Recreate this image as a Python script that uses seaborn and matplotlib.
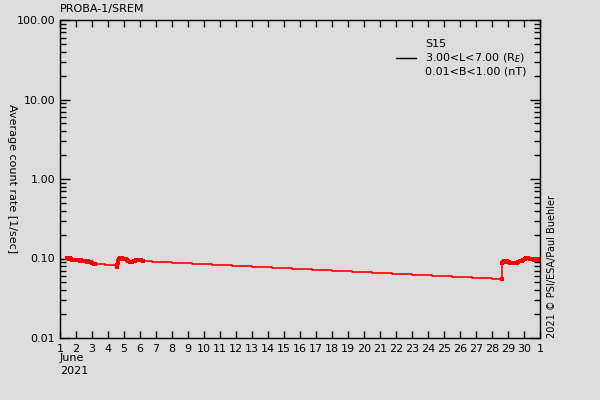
import matplotlib
matplotlib.use("Agg")
import matplotlib.pyplot as plt
import numpy as np
import pandas as pd
import seaborn as sns

# dense measurement bursts (days of June 2021, average count rate)
burst1_days = [1.46, 1.52, 1.58, 1.64, 1.70, 1.76, 1.82, 1.90, 1.98, 2.06, 2.14, 2.22,
               2.30, 2.38, 2.46, 2.54, 2.62, 2.70, 2.78, 2.86, 2.94, 3.02, 3.10, 3.16]
burst1_rate = [0.101, 0.102, 0.100, 0.101, 0.099, 0.097, 0.096, 0.097, 0.095, 0.096, 0.095, 0.094,
               0.095, 0.093, 0.092, 0.093, 0.092, 0.091, 0.092, 0.091, 0.090, 0.089, 0.086, 0.085]
gap1_days = [3.8, 4.5]
gap1_rate = [0.082, 0.079]
burst2_days = [4.56, 4.58, 4.60, 4.62, 4.66, 4.72, 4.80, 4.88, 4.96, 5.04, 5.12, 5.20,
               5.28, 5.36, 5.44, 5.52, 5.60, 5.68, 5.76, 5.84, 5.92, 6.00, 6.08, 6.16]
burst2_rate = [0.078, 0.082, 0.088, 0.094, 0.099, 0.101, 0.100, 0.101, 0.100, 0.099, 0.098, 0.096,
               0.093, 0.091, 0.090, 0.091, 0.093, 0.094, 0.095, 0.096, 0.095, 0.096, 0.095, 0.094]
gap2_days = [6.2, 6.77, 8.02, 9.27, 10.52, 11.77, 13.02, 14.27, 15.52, 16.77, 18.02,
             19.27, 20.52, 21.77, 23.02, 24.27, 25.52, 26.77, 28.02]
gap2_rate = [0.0922, 0.0896, 0.0870, 0.0845, 0.0821, 0.0798, 0.0775, 0.0753, 0.0731, 0.0711, 0.0690,
             0.0671, 0.0651, 0.0633, 0.0615, 0.0597, 0.0580, 0.0564, 0.0547]
burst3_days = [28.64, 28.65, 28.68, 28.75, 28.85, 28.95, 29.05, 29.15, 29.25, 29.35, 29.45, 29.55,
               29.65, 29.75, 29.85, 29.95, 30.05, 30.15, 30.25, 30.35, 30.45, 30.55, 30.65, 30.75,
               30.85, 30.95, 31.0]
burst3_rate = [0.0547, 0.087, 0.091, 0.092, 0.091, 0.092, 0.090, 0.088, 0.087, 0.088, 0.087, 0.089,
               0.090, 0.092, 0.094, 0.097, 0.099, 0.102, 0.101, 0.099, 0.098, 0.098, 0.097, 0.098,
               0.097, 0.098, 0.099]

xtick_pos = list(range(1, 32))
xtick_labels = [str(d) for d in range(1, 31)] + ["1"]
ytick_pos = [0.01, 0.1, 1, 10, 100]
ytick_labels = ["0.01", "0.10", "1.00", "10.00", "100.00"]

bg = "#dcdcdc"
sns.set_style("ticks")
plt.rcParams["font.family"] = ["DejaVu Sans"]
plt.rcParams["font.size"] = 8
plt.rcParams["text.color"] = "black"
plt.rcParams["axes.labelcolor"] = "black"
plt.rcParams["xtick.color"] = "black"
plt.rcParams["ytick.color"] = "black"

df = pd.DataFrame({
    "day": burst1_days + gap1_days + burst2_days + gap2_days + burst3_days,
    "rate": burst1_rate + gap1_rate + burst2_rate + gap2_rate + burst3_rate,
})
dense = pd.DataFrame({
    "day": burst1_days + burst2_days + burst3_days,
    "rate": burst1_rate + burst2_rate + burst3_rate,
})

fig = plt.figure(figsize=(6, 4), dpi=100, facecolor=bg)
ax = fig.add_axes([0.1, 0.155, 0.8, 0.795], facecolor=bg)

sns.lineplot(data=df, x="day", y="rate", ax=ax, color="red", linewidth=1.2,
             drawstyle="steps-post", estimator=None, sort=False,
             label="S15\n3.00<L<7.00 (R$_E$)\n0.01<B<1.00 (nT)")
sns.scatterplot(data=dense, x="day", y="rate", ax=ax, color="red", marker="s",
                s=10, linewidth=0, legend=False)

ax.set_yscale("log")
ax.set_xlim(1, 31)
ax.set_ylim(0.01, 100)
ax.set_xticks(xtick_pos)
ax.set_xticklabels(xtick_labels)
ax.set_yticks(ytick_pos)
ax.set_yticklabels(ytick_labels)
ax.tick_params(axis="both", which="both", direction="in", top=True, right=True,
               labelright=False, labeltop=False, width=1, color="black",
               labelcolor="black")
ax.tick_params(axis="y", which="major", length=7)
ax.tick_params(axis="y", which="minor", length=4)
ax.tick_params(axis="x", which="major", length=5, pad=4)
for sp in ax.spines.values():
    sp.set_color("black")
    sp.set_linewidth(1)

ax.set_xlabel("")
ax.set_ylabel("Average count rate [1/sec]", rotation=270, va="center")
ax.yaxis.set_label_coords(-0.1, 0.5)

fig.text(0.1, 0.965, "PROBA-1/SREM", ha="left", va="bottom", fontsize=8)
fig.text(0.1, 0.118, "June\n2021", ha="left", va="top", fontsize=8, linespacing=1.4)
fig.text(0.912, 0.155, "2021 \u00a9 PSI/ESA/Paul Buehler", rotation=90,
         ha="left", va="bottom", fontsize=7)

leg = ax.legend(loc="upper left", bbox_to_anchor=(0.7, 0.94), frameon=False,
                borderpad=0, borderaxespad=0, handlelength=1.8, handletextpad=0.8,
                fontsize=8, labelspacing=0.1)
for line in leg.get_lines():
    line.set_linewidth(1)
    line.set_color("black")

fig.savefig("out.png", dpi=100, facecolor=bg)
